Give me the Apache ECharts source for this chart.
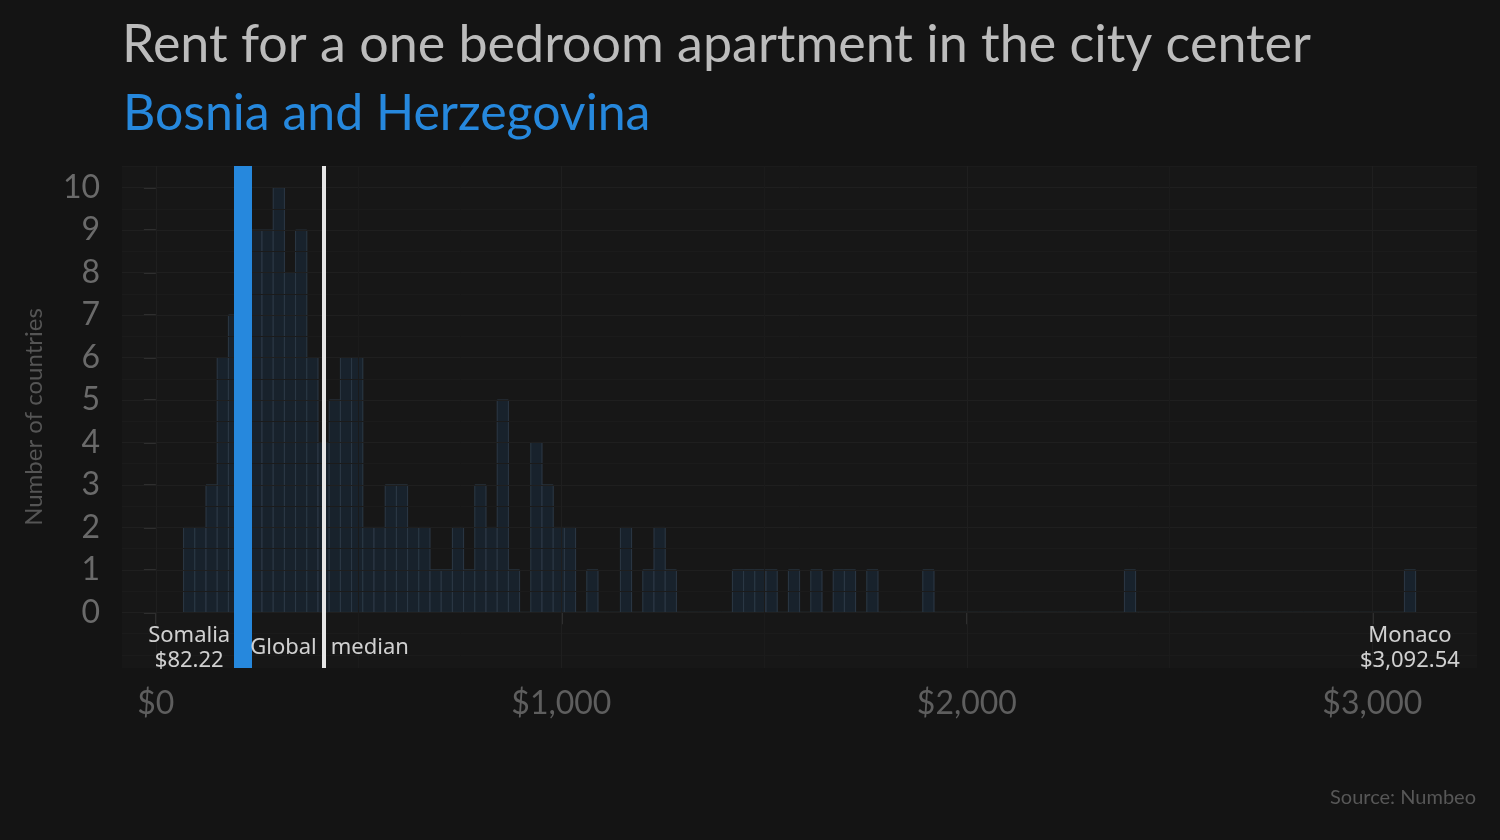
<!DOCTYPE html>
<html>
<head>
<meta charset="utf-8">
<script src="https://cdn.jsdelivr.net/npm/echarts@6/dist/echarts.min.js"></script>
<style>
  html, body { margin: 0; padding: 0; background: #141414; }
  #chart { width: 1500px; height: 840px; }
</style>
</head>
<body>
<div id="chart"></div>
<script>
// ---- data ----
const titleText = 'Rent for a one bedroom apartment in the city center';
const subtitleText = 'Bosnia and Herzegovina';
const sourceText = 'Source: Numbeo';
const yAxisTitle = 'Number of countries';

// histogram: 110 bins, first bin starts at $68.41, width $27.62
const binStart = 68.41;
const binWidth = 27.62;
const binCounts = [
  2,2,3,6,7,9,9,9,10,8,
  9,6,4,5,6,6,2,2,3,3,
  2,2,1,1,2,1,3,2,5,1,
  0,4,3,2,2,0,1,0,0,2,
  0,1,2,1,0,0,0,0,0,1,
  1,1,1,0,1,0,1,0,1,1,
  0,1,0,0,0,0,1,0,0,0,
  0,0,0,0,0,0,0,0,0,0,
  0,0,0,0,1,0,0,0,0,0,
  0,0,0,0,0,0,0,0,0,0,
  0,0,0,0,0,0,0,0,0,1
];

const highlightCountry = 'Bosnia and Herzegovina';
const highlightValue = 214;
const globalMedian = 414;
const medianWords = ['Global', 'median'];
const extremeNames = ['Somalia', 'Monaco'];
const extremeValues = [82.22, 3092.54];

const xTickValues = [0, 1000, 2000, 3000];
const xMinorGrid = [500, 1500, 2500];
const yTickValues = [0,1,2,3,4,5,6,7,8,9,10];
const yMinorGrid = [-1, -0.5, 0.5, 1.5, 2.5, 3.5, 4.5, 5.5, 6.5, 7.5, 8.5, 9.5, 10.5];

const xRange = [-83.5, 3258];
const yRange = [-1.31, 10.51];
const labelY = -0.84;

// ---- build ----
const histData = binCounts.map((c, i) => [binStart + i * binWidth, binStart + (i + 1) * binWidth, c]);
const fmtMoney = v => '$' + v.toLocaleString('en-US', {minimumFractionDigits: 2, maximumFractionDigits: 2});

const chart = echarts.init(document.getElementById('chart'), null, {renderer: 'canvas'});

const gridLine = (arr, axis, color) => arr.map(v => ({[axis]: v, lineStyle: {color: color, width: 1, type: 'solid'}}));

const labelFont = { color: '#ffffff', fontFamily: 'Noto Sans', fontSize: 22, lineHeight: 25 };

const option = {
  backgroundColor: '#141414',
  animation: false,
  title: [
    { text: titleText, left: 117, top: 14,
      textStyle: { color: '#bcbcbc', fontFamily: 'Lato', fontWeight: 'normal', fontSize: 52 } },
    { text: subtitleText, left: 118, top: 84,
      textStyle: { color: '#2688dd', fontFamily: 'Lato', fontWeight: 'normal', fontSize: 50 } }
  ],
  graphic: [
    { type: 'text', right: 24, top: 788,
      style: { text: sourceText, fill: '#575757', font: '20px Lato' } }
  ],
  grid: { left: 122, right: 23, top: 166, bottom: 172, show: true, backgroundColor: '#171717', borderWidth: 0 },
  xAxis: {
    type: 'value', min: xRange[0], max: xRange[1],
    axisLine: { show: false },
    splitLine: { show: false },
    axisTick: { show: true, customValues: xTickValues, length: 12, lineStyle: { color: '#2e2e2e', width: 2 } },
    axisLabel: { customValues: xTickValues, color: '#5e5e5e', fontFamily: 'Lato', fontSize: 32, margin: 20,
      formatter: v => '$' + v.toLocaleString('en-US') }
  },
  yAxis: {
    type: 'value', min: yRange[0], max: yRange[1],
    name: yAxisTitle, nameLocation: 'middle', nameGap: 76, nameRotate: 90,
    nameTextStyle: { color: '#555555', fontFamily: 'Lato', fontSize: 24 },
    axisLine: { show: false },
    splitLine: { show: false },
    axisTick: { show: true, customValues: yTickValues, length: 12, lineStyle: { color: '#2e2e2e', width: 2 } },
    axisLabel: { customValues: yTickValues, color: '#6a6a6a', fontFamily: 'Lato', fontSize: 32, margin: 22 }
  },
  series: [
    { // grid lines
      type: 'line', data: [], silent: true, z: 0,
      markLine: {
        symbol: 'none', silent: true, label: { show: false }, animation: false,
        data: [].concat(
          gridLine(yMinorGrid, 'yAxis', '#1b1b1b'),
          gridLine(yTickValues, 'yAxis', '#1f1f1f'),
          gridLine(xMinorGrid, 'xAxis', '#1b1b1b'),
          gridLine(xTickValues, 'xAxis', '#1f1f1f')
        )
      }
    },
    {
      type: 'custom', z: 2,
      renderItem: (params, api) => {
        const p0 = api.coord([api.value(0), 0]);
        const p1 = api.coord([api.value(1), api.value(2)]);
        return {
          type: 'rect',
          shape: { x: p0[0], y: p1[1], width: p1[0] - p0[0], height: p0[1] - p1[1] },
          style: { fill: '#18222c', stroke: '#2c3946', lineWidth: 1 }
        };
      },
      encode: { x: [0, 1], y: 2 },
      data: histData
    },
    { // highlight + median lines
      type: 'line', data: [], z: 5,
      markLine: {
        symbol: 'none', silent: true, label: { show: false }, animation: false,
        data: [
          { name: highlightCountry, xAxis: highlightValue, lineStyle: { color: '#2688dd', width: 18, type: 'solid', opacity: 1 } },
          { name: 'Global median', xAxis: globalMedian, lineStyle: { color: '#e6e6e6', width: 4, type: 'solid', opacity: 1 } }
        ]
      }
    },
    { // annotations
      type: 'scatter', z: 20, zlevel: 1, symbolSize: 0, silent: true,
      data: [
        { value: [extremeValues[0], labelY], name: extremeNames[0] + '\n' + fmtMoney(extremeValues[0]),
          label: { align: 'center' } },
        { value: [extremeValues[1], labelY], name: extremeNames[1] + '\n' + fmtMoney(extremeValues[1]),
          label: { align: 'center' } },
        { value: [globalMedian, labelY], name: medianWords[0], label: { align: 'right', offset: [-7, 0] } },
        { value: [globalMedian, labelY], name: medianWords[1], label: { align: 'left', offset: [7, 0] } }
      ],
      label: Object.assign({ show: true, position: 'inside', formatter: p => p.name }, labelFont)
    }
  ]
};
chart.setOption(option);
</script>
</body>
</html>
